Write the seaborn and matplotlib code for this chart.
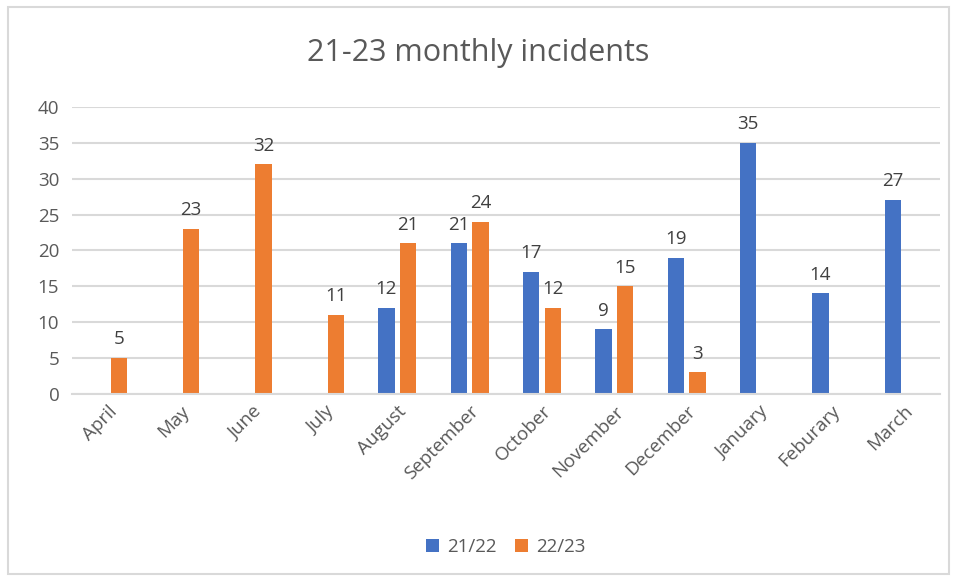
import numpy as np
import pandas as pd
import matplotlib
matplotlib.use("Agg")
import matplotlib.pyplot as plt
import seaborn as sns
from matplotlib.patches import Rectangle

# ---------------- data ----------------
months = ["April", "May", "June", "July", "August", "September", "October",
          "November", "December", "January", "Feburary", "March"]
vals_2122 = [np.nan, np.nan, np.nan, np.nan, 12, 21, 17, 9, 19, 35, 14, 27]
vals_2223 = [5, 23, 32, 11, 21, 24, 12, 15, 3, np.nan, np.nan, np.nan]
series = ["21/22", "22/23"]

df = pd.DataFrame({
    "Month": months * 2,
    "Season": [series[0]] * len(months) + [series[1]] * len(months),
    "Incidents": vals_2122 + vals_2223,
})

# ---------------- style ----------------
sns.set_theme(style="white")
plt.rcParams["font.family"] = ["Open Sans", "DejaVu Sans"]
txt = "#595959"
colors = {"21/22": "#4472C4", "22/23": "#ED7D31"}

fig = plt.figure(figsize=(9.57, 5.81), dpi=100)
ax = fig.add_axes([0.075, 0.322, 0.907, 0.494])

sns.barplot(data=df, x="Month", y="Incidents", hue="Season", order=months,
            hue_order=series, palette=colors, width=0.6, gap=0.25,
            saturation=1, errorbar=None, linewidth=0, ax=ax)

for cont in ax.containers:
    ax.bar_label(cont, fmt="%g", padding=7, fontsize=13.5, color="#404040")

ax.set_ylim(0, 40)
ax.set_yticks(range(0, 41, 5))
ax.set_xlim(-0.5, len(months) - 0.5)
ax.yaxis.grid(True, color="#D9D9D9", linewidth=1.5)
ax.set_axisbelow(True)
for s in ["left", "right", "top"]:
    ax.spines[s].set_visible(False)
ax.spines["bottom"].set_color("#D9D9D9")
ax.spines["bottom"].set_linewidth(1.5)
ax.tick_params(axis="both", length=0, labelsize=13.5, labelcolor=txt)
ax.tick_params(axis="y", pad=9)
ax.tick_params(axis="x", pad=6)
plt.setp(ax.get_xticklabels(), rotation=45, ha="right", rotation_mode="anchor")
ax.set_xlabel("")
ax.set_ylabel("")

fig.suptitle("21-23 monthly incidents", y=0.935, fontsize=22, color=txt)

ax.legend(loc="center", bbox_to_anchor=(0.5, -0.534), ncol=2, frameon=False,
          fontsize=13.5, handlelength=0.7, handleheight=0.7, columnspacing=1.0,
          handletextpad=0.4, labelcolor=txt)

fig.patches.append(Rectangle((0.008, 0.012), 0.984, 0.976, transform=fig.transFigure,
                             fill=False, edgecolor="#D9D9D9", linewidth=1.5))

fig.savefig("out.png", dpi=100)
